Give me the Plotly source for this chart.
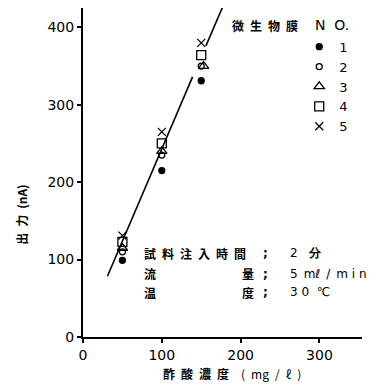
import plotly.graph_objects as go

# Data
conc = [50, 100, 150]
series_names = ["1", "2", "3", "4", "5"]
out_1 = [99, 215, 331]
out_2 = [110, 235, 350]
out_3 = [115, 240, 350]
out_4 = [123, 250, 364]
out_5 = [131, 265, 380]
conc_3 = [50, 100, 153]
fit_x = [31, 139, None, 156, 177]
fit_y = [78.5, 336, None, 376, 426]
x_ticks = [0, 100, 200, 300]
y_ticks = [0, 100, 200, 300, 400]

symbols = ["circle", "circle-open", "triangle-up-open", "square-open", "x-thin-open"]
sizes = [6, 6, 9, 9, 8]
series = [out_1, out_2, out_3, out_4, out_5]
xs = [conc, conc, conc_3, conc, conc]

fig = go.Figure()
fig.add_trace(go.Scatter(x=fit_x, y=fit_y, mode="lines",
                         line=dict(color="black", width=1.6), showlegend=False,
                         hoverinfo="skip"))
for name, xv, yv, sym, sz in zip(series_names, xs, series, symbols, sizes):
    fig.add_trace(go.Scatter(x=xv, y=yv, mode="markers", name=name,
                             marker=dict(symbol=sym, size=sz, color="black",
                                         line=dict(color="black", width=1.3))))

cjk = "Noto Sans CJK JP"
num = "DejaVu Sans"
E = "\u2002"  # en space

# page body adds an 8px margin; figure is sized/margined to compensate
fig.update_layout(
    width=372, height=377,
    margin=dict(l=75, r=18, t=0, b=48),
    paper_bgcolor="white", plot_bgcolor="white",
    showlegend=True,
    legend=dict(x=0.775, y=0.928, xanchor="left", yanchor="top",
                font=dict(family=num, size=13, color="black"),
                tracegroupgap=0, itemwidth=30, bgcolor="rgba(0,0,0,0)"),
    xaxis=dict(range=[0, 354], tickvals=x_ticks, showgrid=False, zeroline=False,
               showline=True, linecolor="black", linewidth=1.5,
               ticks="outside", ticklen=4, tickcolor="black", tickwidth=1.5,
               tickfont=dict(family=num, size=14, color="black")),
    yaxis=dict(range=[0, 425], tickvals=y_ticks, showgrid=False, zeroline=False,
               showline=True, linecolor="black", linewidth=2,
               ticks="outside", ticklen=4, tickcolor="black", tickwidth=1.5,
               tickfont=dict(family=num, size=14, color="black")),
)

def ann(text, x, y, xref="x", yref="y", xanchor="left", size=12, angle=0, family=cjk):
    fig.add_annotation(text=text, x=x, y=y, xref=xref, yref=yref, xanchor=xanchor,
                       yanchor="middle", showarrow=False, textangle=angle,
                       font=dict(family=family, size=size, color="black"))

ann("<b>" + E.join("微生物膜") + "</b>", 186, 403)
ann("N  O.", 292, 403, family=num, size=14)
ann("<b>" + E.join("試料注入時間") + "</b>", 75, 108)
ann("<b>流</b>", 75, 82)
ann("<b>温</b>", 75, 58)
ann("<b>量</b>", 199, 82)
ann("<b>度</b>", 199, 58)
for yy in [108, 82, 58]:
    ann("<b>;</b>", 231, yy, xanchor="center", family=num)
ann("2   <b>分</b>", 260, 108, family=num)
ann("5" + E + "mℓ" + E + "/" + E + "m i n", 260, 82, family=num)
ann("3 0  ℃", 260, 58, family=num)
ann("<b>出" + E + "力" + E + "(nA)</b>", -0.219, 0.371, xref="paper", yref="paper",
    xanchor="center", angle=-90, size=12)
ann("<b>" + E.join("酢酸濃度") + "</b>" + E + E + "(" + E + "mg" + E + "/" + E + "ℓ" + E + ")",
    0.534, -0.112, xref="paper", yref="paper", xanchor="center", size=12)

fig.write_html("out.html")
